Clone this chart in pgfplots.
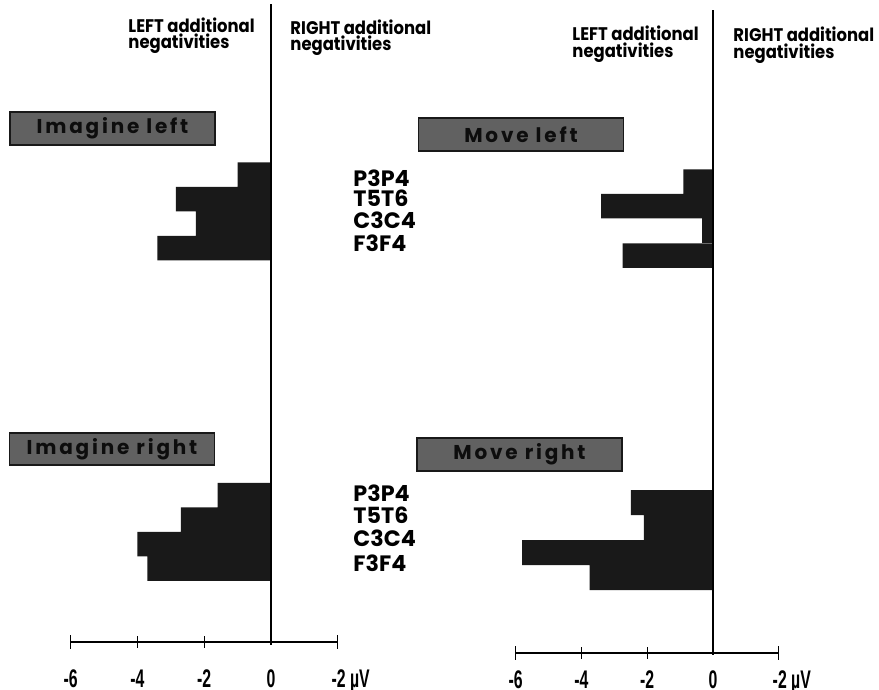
\documentclass[border=0pt]{standalone}
\usepackage{graphicx}
\usepackage{pgfplots}
\pgfplotsset{compat=1.18}
\usepackage{fontspec}
\setmainfont{Poppins}
\newfontfamily\gothic{Poppins}
\newfontfamily\narrowf{Liberation Sans}
\newfontfamily\boxf[LetterSpace=14]{Poppins}
\newcommand\tk[1]{\scalebox{0.62}[1]{\narrowf\bfseries\fontsize{10.2}{11}\selectfont #1}}
\newcommand\hd[1]{\scalebox{0.9}[1]{\gothic\bfseries\fontsize{7.3}{8}\selectfont #1}}
\newcommand\el{\gothic\bfseries\fontsize{8.9}{9}\selectfont}

\begin{document}
\begin{tikzpicture}
\pgfplotsset{col/.style={scale only axis, height=276pt, ymin=0, ymax=690, y dir=reverse, hide axis, clip=false}}
% ---------------- left column ----------------
\begin{axis}[col, width=176pt, xmin=-8.1138, xmax=5.0599, at={(0pt,-276pt)}, anchor=south west]
\addplot[xbar, bar width=24.5, bar shift=0pt, fill=black!90, draw=none]
  coordinates {(-1.0,174.5) (-2.85,199) (-2.25,223.5) (-3.4,248)};
\addplot[xbar, bar width=24.5, bar shift=0pt, fill=black!90, draw=none]
  coordinates {(-1.6,495) (-2.7,519.5) (-4.0,544) (-3.7,568.5)};
\draw[line width=0.6pt] (axis cs:0,4) -- (axis cs:0,645);
\draw[line width=0.5pt] (axis cs:-6,642) -- (axis cs:2,642);
\draw[line width=0.5pt] (axis cs:-6,635) -- (axis cs:-6,649);
\draw[line width=0.5pt] (axis cs:-4,636) -- (axis cs:-4,648);
\draw[line width=0.5pt] (axis cs:-2,636) -- (axis cs:-2,648);
\draw[line width=0.5pt] (axis cs:2,635) -- (axis cs:2,649);
\node[anchor=base] at (axis cs:-6,687) {\tk{-6}};
\node[anchor=base] at (axis cs:-4,687) {\tk{-4}};
\node[anchor=base] at (axis cs:-2,687) {\tk{-2}};
\node[anchor=base] at (axis cs:0,687) {\tk{0}};
\node[anchor=base west, inner xsep=0pt] at (axis cs:1.8,687) {\tk{-2 µV}};
\end{axis}
% ---------------- right column ----------------
\begin{axis}[col, width=175.6pt, xmin=-8.2979, xmax=5.0456, at={(176pt,-276pt)}, anchor=south west]
\addplot[xbar, bar width=24.5, bar shift=0pt, fill=black!90, draw=none]
  coordinates {(-0.9,181.5) (-3.4,206) (-0.33,230.5) (-2.75,255.5)};
\addplot[xbar, bar width=25, bar shift=0pt, fill=black!90, draw=none]
  coordinates {(-2.5,502.5) (-2.1,527.5) (-5.8,552.5) (-3.75,577.5)};
\draw[line width=0.6pt] (axis cs:0,10) -- (axis cs:0,655);
\draw[line width=0.5pt] (axis cs:-6,653) -- (axis cs:2,653);
\draw[line width=0.5pt] (axis cs:-6,646) -- (axis cs:-6,660);
\draw[line width=0.5pt] (axis cs:-4,647) -- (axis cs:-4,659);
\draw[line width=0.5pt] (axis cs:-2,647) -- (axis cs:-2,659);
\draw[line width=0.5pt] (axis cs:2,646) -- (axis cs:2,660);
\node[anchor=base] at (axis cs:-6,688) {\tk{-6}};
\node[anchor=base] at (axis cs:-4,688) {\tk{-4}};
\node[anchor=base] at (axis cs:-2,688) {\tk{-2}};
\node[anchor=base] at (axis cs:0,688) {\tk{0}};
\node[anchor=base west, inner xsep=0pt] at (axis cs:1.8,688) {\tk{-2 µV}};
\end{axis}
% ---------------- annotations (pixel frame) ----------------
\begin{scope}[x=0.4pt,y=-0.4pt]
\tikzset{hdr/.style={anchor=base west, inner sep=0pt},
         elc/.style={anchor=base west, inner sep=0pt, font=\el},
         cond/.style={anchor=center, inner sep=0pt, fill=black!62, draw=black!90, line width=0.7pt,
                      minimum width=82pt, minimum height=13pt, text=black!95,
                      font=\boxf\bfseries\fontsize{8}{8}\selectfont}}
\node[hdr] at (128,32) {\hd{LEFT additional}};
\node[hdr] at (128,48.5) {\hd{negativities}};
\node[hdr] at (290,34) {\hd{RIGHT additional}};
\node[hdr] at (290,50) {\hd{negativities}};
\node[hdr] at (572,40) {\hd{LEFT additional}};
\node[hdr] at (572,57) {\hd{negativities}};
\node[hdr] at (733,41) {\hd{RIGHT additional}};
\node[hdr] at (733,58) {\hd{negativities}};
\node[cond] at (112.5,128.5) {Imagine left};
\node[cond] at (521,134.5) {Move left};
\node[cond] at (112,449) {Imagine right};
\node[cond] at (519.5,454.5) {Move right};
\node[elc] at (353,186) {P3P4};
\node[elc] at (353,206.5) {T5T6};
\node[elc] at (353,228.5) {C3C4};
\node[elc] at (353,252) {F3F4};
\node[elc] at (353,502) {P3P4};
\node[elc] at (353,524) {T5T6};
\node[elc] at (353,547) {C3C4};
\node[elc] at (353,572) {F3F4};
\end{scope}
\pgfresetboundingbox
\path[use as bounding box] (0pt,0pt) rectangle (351.6pt,-276pt);
\end{tikzpicture}
\end{document}
